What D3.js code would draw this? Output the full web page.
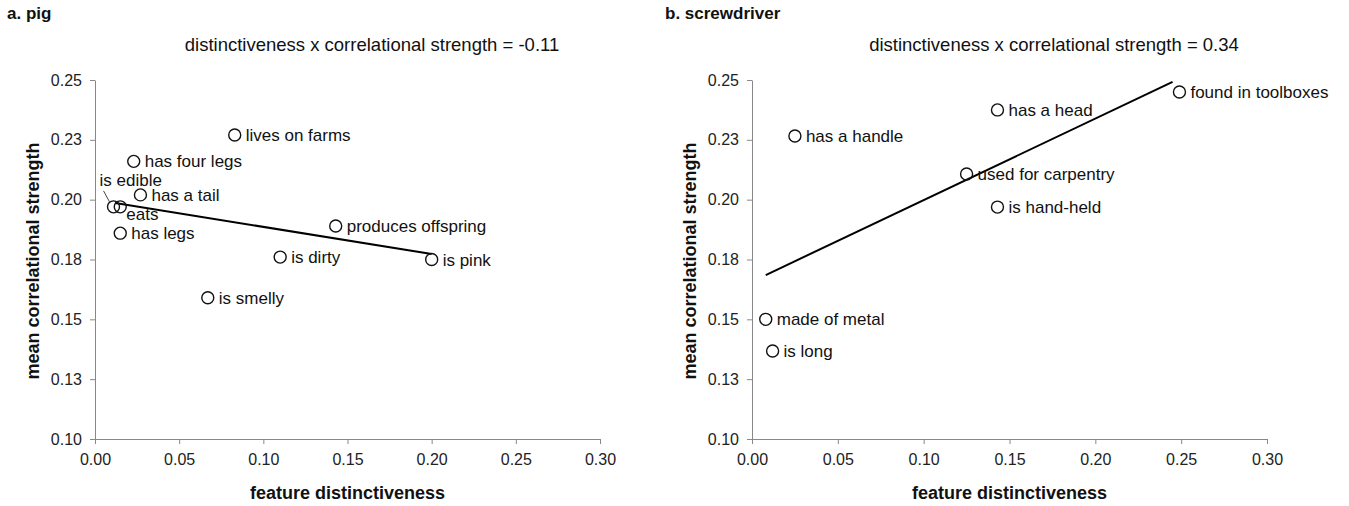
<!DOCTYPE html>
<html lang="en">
<head>
<meta charset="utf-8">
<title>distinctiveness x correlational strength</title>
<script src="https://d3js.org/d3.v7.min.js"></script>
<style>
  body { margin: 0; background: #fff; }
  svg { font-family: "Liberation Sans", Arial, sans-serif; }
</style>
</head>
<body>
<script>
// axis ticks
var xTicks = [0, 0.05, 0.10, 0.15, 0.20, 0.25, 0.30];
var xTickLabels = ["0.00", "0.05", "0.10", "0.15", "0.20", "0.25", "0.30"];
var yTicks = [0.10, 0.125, 0.15, 0.175, 0.20, 0.225, 0.25];
var yTickLabels = ["0.10", "0.13", "0.15", "0.18", "0.20", "0.23", "0.25"];

// a. pig
var pigFeatures = ["lives on farms", "has four legs", "has a tail", "is edible", "eats",
                   "has legs", "produces offspring", "is dirty", "is pink", "is smelly"];
var pigDistinct = [0.083, 0.023, 0.027, 0.011, 0.015, 0.015, 0.143, 0.110, 0.200, 0.067];
var pigStrength = [0.227, 0.216, 0.202, 0.197, 0.197, 0.186, 0.189, 0.176, 0.175, 0.159];
var pigTrendX = [0.012, 0.200];
var pigTrendY = [0.1986, 0.1773];

// b. screwdriver
var sdFeatures = ["found in toolboxes", "has a head", "has a handle", "used for carpentry",
                  "is hand-held", "made of metal", "is long"];
var sdDistinct = [0.249, 0.143, 0.025, 0.125, 0.143, 0.008, 0.012];
var sdStrength = [0.245, 0.2375, 0.2266, 0.2107, 0.1969, 0.150, 0.1368];
var sdTrendX = [0.008, 0.245];
var sdTrendY = [0.1685, 0.2492];

var W = 1349, H = 506;
var svg = d3.select("body").append("svg").attr("width", W).attr("height", H);

function panel(opt) {
  var x = d3.scaleLinear().domain([0, 0.30]).range([opt.left, opt.right]);
  var y = d3.scaleLinear().domain([0.10, 0.25]).range([439, 80]);
  var g = svg.append("g");

  g.append("text").attr("x", opt.titleX).attr("y", 19)
    .attr("font-size", "17px").attr("font-weight", "bold").attr("fill", "#111")
    .text(opt.title);

  g.append("text").attr("x", opt.subX).attr("y", 51)
    .attr("text-anchor", "middle").attr("font-size", "18.5px").attr("fill", "#111")
    .text(opt.subtitle);

  var xa = g.append("g").attr("transform", "translate(0,439)")
    .call(d3.axisBottom(x).tickValues(xTicks)
      .tickFormat(function(d, i) { return xTickLabels[i]; })
      .tickSizeInner(5).tickSizeOuter(0).tickPadding(10));
  var ya = g.append("g").attr("transform", "translate(" + opt.left + ",0)")
    .call(d3.axisLeft(y).tickValues(yTicks)
      .tickFormat(function(d, i) { return yTickLabels[i]; })
      .tickSizeInner(5).tickSizeOuter(0).tickPadding(8));
  [xa, ya].forEach(function(a) {
    a.select(".domain").attr("stroke", "#888");
    a.selectAll(".tick line").attr("stroke", "#888");
    a.selectAll(".tick text").attr("font-size", "16px").attr("fill", "#222")
      .attr("font-family", "Liberation Sans, Arial, sans-serif");
  });

  g.append("text").attr("x", (opt.left + opt.right) / 2).attr("y", 499)
    .attr("text-anchor", "middle").attr("font-size", "18px").attr("font-weight", "bold")
    .attr("fill", "#111").text("feature distinctiveness");
  g.append("text")
    .attr("transform", "translate(" + (opt.left - 56) + ",261) rotate(-90)")
    .attr("text-anchor", "middle").attr("font-size", "18px").attr("font-weight", "bold")
    .attr("fill", "#111").text("mean correlational strength");

  // trend line
  g.append("line")
    .attr("x1", x(opt.trendX[0])).attr("y1", y(opt.trendY[0]))
    .attr("x2", x(opt.trendX[1])).attr("y2", y(opt.trendY[1]))
    .attr("stroke", "#000").attr("stroke-width", 2);

  var pts = opt.features.map(function(f, i) {
    return { name: f, d: opt.distinct[i], s: opt.strength[i] };
  });

  g.selectAll("circle.pt").data(pts).enter().append("circle")
    .attr("class", "pt")
    .attr("cx", function(d) { return x(d.d); })
    .attr("cy", function(d) { return y(d.s); })
    .attr("r", 6)
    .attr("fill", "none").attr("stroke", "#111").attr("stroke-width", 1.4);

  g.selectAll("text.lbl").data(pts).enter().append("text")
    .attr("class", "lbl")
    .attr("x", function(d) { return x(d.d) + (opt.nudge[d.name] ? opt.nudge[d.name][0] : 11); })
    .attr("y", function(d) { return y(d.s) + (opt.nudge[d.name] ? opt.nudge[d.name][1] : 6); })
    .attr("font-size", "17px").attr("fill", "#111")
    .text(function(d) { return d.name; });

  if (opt.leader) {
    var p = pts.filter(function(d) { return d.name === opt.leader; })[0];
    g.append("line")
      .attr("x1", x(p.d) - 10).attr("y1", y(p.s) - 16)
      .attr("x2", x(p.d) - 4).attr("y2", y(p.s) - 5)
      .attr("stroke", "#444").attr("stroke-width", 1);
  }
}

panel({
  left: 95, right: 600, titleX: 7, subX: 372,
  title: "a. pig",
  subtitle: "distinctiveness x correlational strength = -0.11",
  features: pigFeatures, distinct: pigDistinct, strength: pigStrength,
  trendX: pigTrendX, trendY: pigTrendY,
  nudge: { "is edible": [-14, -21], "eats": [6, 13] },
  leader: "is edible"
});

panel({
  left: 752, right: 1267, titleX: 665, subX: 1054,
  title: "b. screwdriver",
  subtitle: "distinctiveness x correlational strength = 0.34",
  features: sdFeatures, distinct: sdDistinct, strength: sdStrength,
  trendX: sdTrendX, trendY: sdTrendY,
  nudge: {}
});
</script>
</body>
</html>
